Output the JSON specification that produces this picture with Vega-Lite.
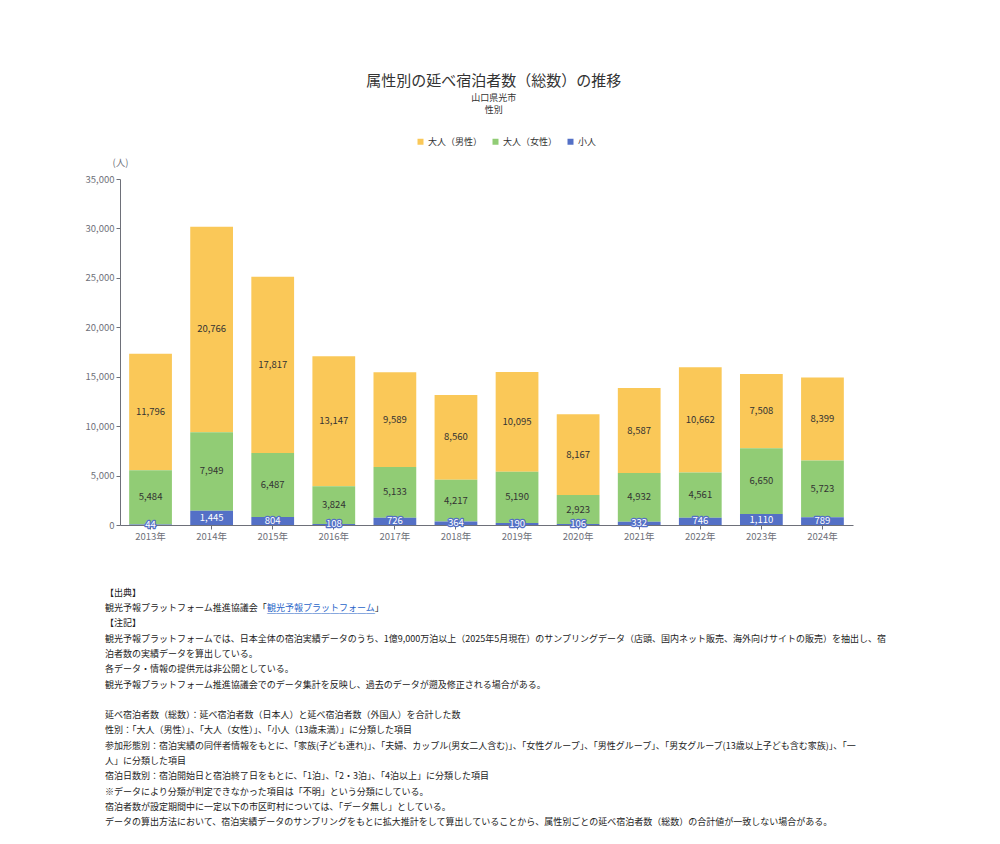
{
  "$schema": "https://vega.github.io/schema/vega-lite/v6.json",
  "background": "white",
  "padding": {"left": 84, "top": 74, "right": 5, "bottom": 5},
  "config": {
    "font": "Noto Sans CJK JP",
    "view": {"stroke": null},
    "axis": {
      "domainColor": "#6e7079",
      "tickColor": "#6e7079",
      "labelColor": "#6e7079",
      "labelFontSize": 9.5,
      "tickSize": 4,
      "labelPadding": 2,
      "grid": false
    },
    "legend": {"padding": 0}
  },
  "title": {
    "text": "属性別の延べ宿泊者数（総数）の推移",
    "subtitle": ["山口県光市", "性別"],
    "fontSize": 15,
    "fontWeight": "normal",
    "color": "#333333",
    "subtitleFontSize": 9,
    "subtitleColor": "#333333",
    "subtitleLineHeight": 12,
    "subtitlePadding": 5,
    "offset": 22,
    "anchor": "middle",
    "dx": 8
  },
  "datasets": {
    "guests": [
      {"year": "2013年", "category": "大人（男性）", "value": 11796},
      {"year": "2013年", "category": "大人（女性）", "value": 5484},
      {"year": "2013年", "category": "小人", "value": 44},
      {"year": "2014年", "category": "大人（男性）", "value": 20766},
      {"year": "2014年", "category": "大人（女性）", "value": 7949},
      {"year": "2014年", "category": "小人", "value": 1445},
      {"year": "2015年", "category": "大人（男性）", "value": 17817},
      {"year": "2015年", "category": "大人（女性）", "value": 6487},
      {"year": "2015年", "category": "小人", "value": 804},
      {"year": "2016年", "category": "大人（男性）", "value": 13147},
      {"year": "2016年", "category": "大人（女性）", "value": 3824},
      {"year": "2016年", "category": "小人", "value": 108},
      {"year": "2017年", "category": "大人（男性）", "value": 9589},
      {"year": "2017年", "category": "大人（女性）", "value": 5133},
      {"year": "2017年", "category": "小人", "value": 726},
      {"year": "2018年", "category": "大人（男性）", "value": 8560},
      {"year": "2018年", "category": "大人（女性）", "value": 4217},
      {"year": "2018年", "category": "小人", "value": 364},
      {"year": "2019年", "category": "大人（男性）", "value": 10095},
      {"year": "2019年", "category": "大人（女性）", "value": 5190},
      {"year": "2019年", "category": "小人", "value": 190},
      {"year": "2020年", "category": "大人（男性）", "value": 8167},
      {"year": "2020年", "category": "大人（女性）", "value": 2923},
      {"year": "2020年", "category": "小人", "value": 106},
      {"year": "2021年", "category": "大人（男性）", "value": 8587},
      {"year": "2021年", "category": "大人（女性）", "value": 4932},
      {"year": "2021年", "category": "小人", "value": 332},
      {"year": "2022年", "category": "大人（男性）", "value": 10662},
      {"year": "2022年", "category": "大人（女性）", "value": 4561},
      {"year": "2022年", "category": "小人", "value": 746},
      {"year": "2023年", "category": "大人（男性）", "value": 7508},
      {"year": "2023年", "category": "大人（女性）", "value": 6650},
      {"year": "2023年", "category": "小人", "value": 1110},
      {"year": "2024年", "category": "大人（男性）", "value": 8399},
      {"year": "2024年", "category": "大人（女性）", "value": 5723},
      {"year": "2024年", "category": "小人", "value": 789}
    ],
    "notes": [
      {"line": 1, "text": "【出典】"},
      {"line": 2, "text": "観光予報プラットフォーム推進協議会「　　　　　　　　　　　　」", "link": "観光予報プラットフォーム"},
      {"line": 3, "text": "【注記】"},
      {"line": 4, "text": "観光予報プラットフォームでは、日本全体の宿泊実績データのうち、1億9,000万泊以上（2025年5月現在）のサンプリングデータ（店頭、国内ネット販売、海外向けサイトの販売）を抽出し、宿"},
      {"line": 5, "text": "泊者数の実績データを算出している。"},
      {"line": 6, "text": "各データ・情報の提供元は非公開としている。"},
      {"line": 7, "text": "観光予報プラットフォーム推進協議会でのデータ集計を反映し、過去のデータが遡及修正される場合がある。"},
      {"line": 8, "text": ""},
      {"line": 9, "text": "延べ宿泊者数（総数）：延べ宿泊者数（日本人）と延べ宿泊者数（外国人）を合計した数"},
      {"line": 10, "text": "性別：「大人（男性）」、「大人（女性）」、「小人（13歳未満）」に分類した項目"},
      {"line": 11, "text": "参加形態別：宿泊実績の同伴者情報をもとに、「家族(子ども連れ)」、「夫婦、カップル(男女二人含む)」、「女性グループ」、「男性グループ」、「男女グループ(13歳以上子ども含む家族)」、「一"},
      {"line": 12, "text": "人」に分類した項目"},
      {"line": 13, "text": "宿泊日数別：宿泊開始日と宿泊終了日をもとに、「1泊」、「2・3泊」、「4泊以上」に分類した項目"},
      {"line": 14, "text": "※データにより分類が判定できなかった項目は「不明」という分類にしている。"},
      {"line": 15, "text": "宿泊者数が設定期間中に一定以下の市区町村については、「データ無し」としている。"},
      {"line": 16, "text": "データの算出方法において、宿泊実績データのサンプリングをもとに拡大推計をして算出していることから、属性別ごとの延べ宿泊者数（総数）の合計値が一致しない場合がある。"}
    ]
  },
  "spacing": 44,
  "vconcat": [
    {
      "width": 733,
      "height": 346,
      "data": {"name": "guests"},
      "transform": [
        {"calculate": "indexof(['小人', '大人（女性）', '大人（男性）'], datum.category)", "as": "stackRank"}
      ],
      "encoding": {
        "x": {
          "field": "year",
          "type": "ordinal",
          "scale": {"paddingInner": 0.3, "paddingOuter": 0.15},
          "axis": {"title": null, "labelAngle": 0}
        }
      },
      "layer": [
        {
          "mark": {"type": "bar"},
          "encoding": {
            "y": {
              "field": "value",
              "type": "quantitative",
              "stack": "zero",
              "scale": {"domain": [0, 35000]},
              "axis": {
                "title": "(人)",
                "titleAngle": 0,
                "titleX": 0,
                "titleY": -17,
                "titleAlign": "center",
                "titleBaseline": "middle",
                "titleFontSize": 9.5,
                "titleFontWeight": "normal",
                "titleColor": "#6e7079",
                "values": [0, 5000, 10000, 15000, 20000, 25000, 30000, 35000],
                "format": ",d"
              }
            },
            "order": {"field": "stackRank", "type": "quantitative"},
            "color": {
              "field": "category",
              "type": "nominal",
              "sort": ["大人（男性）", "大人（女性）", "小人"],
              "scale": {"range": ["#fac858", "#91cc75", "#5470c6"]},
              "legend": {
                "title": null,
                "orient": "none",
                "direction": "horizontal",
                "legendX": 296,
                "legendY": -42,
                "symbolType": "square",
                "symbolSize": 36,
                "symbolStrokeWidth": 0,
                "labelFontSize": 9,
                "labelColor": "#333333",
                "labelOffset": 3,
                "columnPadding": 8
              }
            }
          }
        },
        {
          "transform": [{"filter": "datum.category === '小人'"}],
          "mark": {"type": "text", "fontSize": 9.5, "fill": "#5470c6", "stroke": "#5470c6", "strokeWidth": 2.5, "strokeJoin": "round"},
          "encoding": {
            "y": {
              "field": "value",
              "type": "quantitative",
              "stack": "zero",
              "bandPosition": 0.5,
              "scale": {"domain": [0, 35000]},
              "axis": {
                "title": "(人)",
                "titleAngle": 0,
                "titleX": 0,
                "titleY": -17,
                "titleAlign": "center",
                "titleBaseline": "middle",
                "titleFontSize": 9.5,
                "titleFontWeight": "normal",
                "titleColor": "#6e7079",
                "values": [0, 5000, 10000, 15000, 20000, 25000, 30000, 35000],
                "format": ",d"
              }
            },
            "text": {"field": "value", "format": ","}
          }
        },
        {
          "mark": {"type": "text", "fontSize": 9.5},
          "encoding": {
            "y": {
              "field": "value",
              "type": "quantitative",
              "stack": "zero",
              "bandPosition": 0.5,
              "scale": {"domain": [0, 35000]},
              "axis": {
                "title": "(人)",
                "titleAngle": 0,
                "titleX": 0,
                "titleY": -17,
                "titleAlign": "center",
                "titleBaseline": "middle",
                "titleFontSize": 9.5,
                "titleFontWeight": "normal",
                "titleColor": "#6e7079",
                "values": [0, 5000, 10000, 15000, 20000, 25000, 30000, 35000],
                "format": ",d"
              }
            },
            "order": {"field": "stackRank", "type": "quantitative"},
            "text": {"field": "value", "format": ","},
            "color": {
              "field": "category",
              "type": "nominal",
              "sort": ["大人（男性）", "大人（女性）", "小人"],
              "scale": {"range": ["#333333", "#333333", "#ffffff"]},
              "legend": null
            }
          }
        }
      ],
      "resolve": {"scale": {"color": "independent"}}
    },
    {
      "width": 600,
      "height": 245,
      "data": {"name": "notes"},
      "encoding": {
        "y": {"field": "line", "type": "ordinal", "axis": null},
        "x": {"value": 0}
      },
      "layer": [
        {
          "mark": {"type": "text", "align": "left", "baseline": "middle", "fontSize": 9, "dx": -15, "fill": "#222222"},
          "encoding": {"text": {"field": "text"}}
        },
        {
          "transform": [{"filter": "datum.line === 2"}],
          "mark": {"type": "text", "align": "left", "baseline": "middle", "fontSize": 9, "dx": 147, "fill": "#2a65c8"},
          "encoding": {"text": {"field": "link"}}
        },
        {
          "transform": [{"filter": "datum.line === 2"}],
          "mark": {"type": "text", "align": "left", "baseline": "middle", "fontSize": 9, "dx": 147, "dy": 1, "fill": "#2a65c8", "text": "＿＿＿＿＿＿＿＿＿＿＿＿"}
        }
      ]
    }
  ]
}
